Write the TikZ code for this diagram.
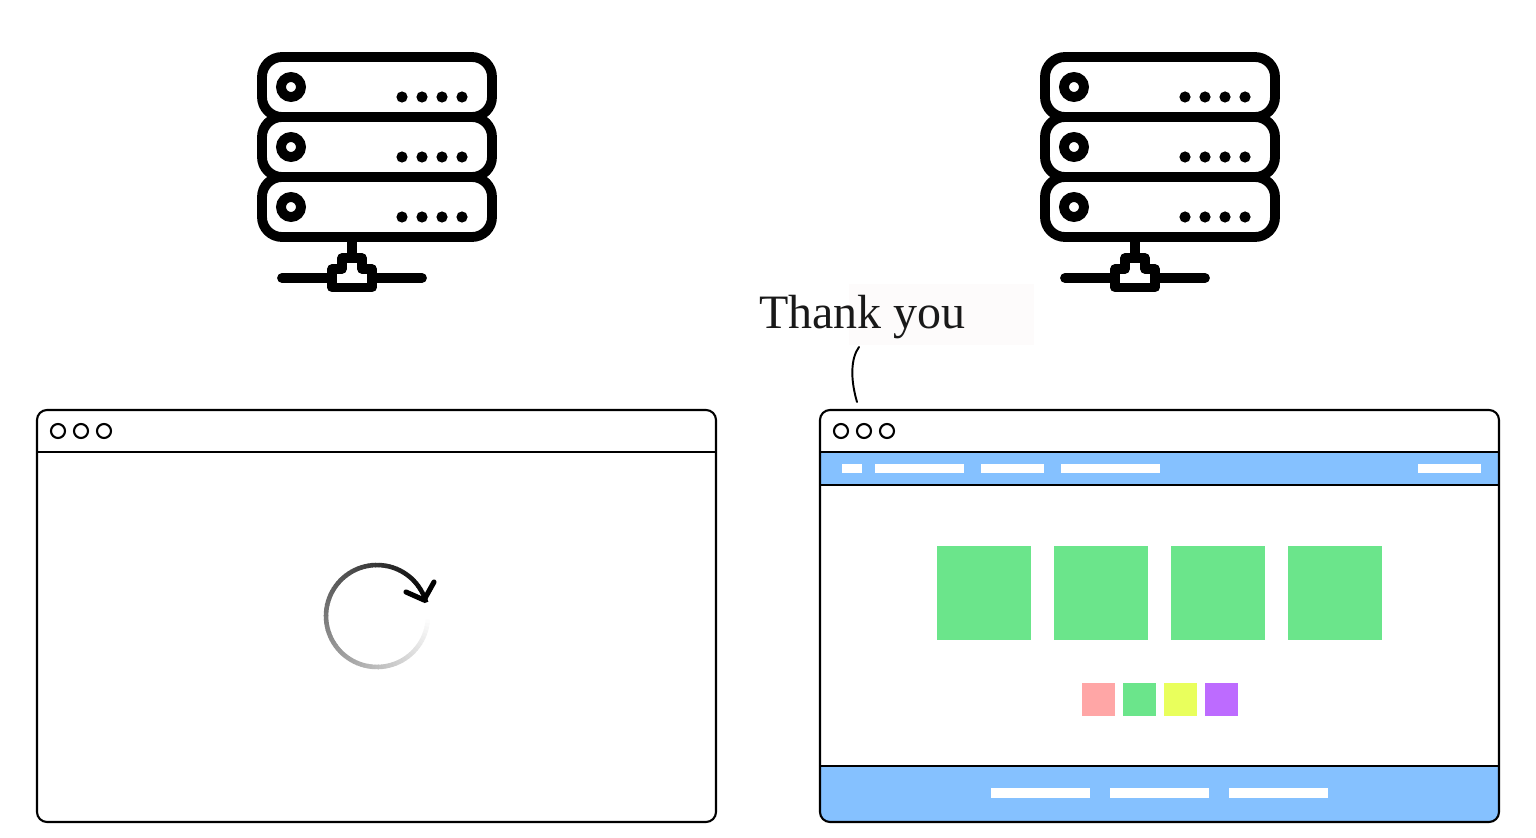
\documentclass[tikz,border=0pt]{standalone}
\usepackage{fontspec}
\setmainfont{Liberation Serif}
\usepackage{xcolor}
\definecolor{barblue}{HTML}{85C1FF}
\definecolor{boxgreen}{HTML}{6BE58B}
\definecolor{boxred}{HTML}{FFA6A6}
\definecolor{boxyellow}{HTML}{E9FF5C}
\definecolor{boxviolet}{HTML}{BD6BFF}
\definecolor{paleback}{HTML}{FDFBFB}
\tikzset{
    rack/.style={line width=5.6pt, rounded corners=0.4cm},
    frame/.style={line width=1.2pt, rounded corners=0.2cm},
    rule/.style={line width=1.2pt},
    button/.style={line width=1.2pt},
    wire/.style={line width=5.6pt, line cap=round},
    spinner/.style={line width=2.6pt}
}

\begin{document}
\begin{tikzpicture}[x=0.02cm, y=-0.02cm]
        \useasboundingbox (0,0) rectangle (1536,838);
        % thank you note
        \fill[paleback] (849,284) rectangle (1034,345);
        \node[anchor=base west, inner sep=0pt, text=black!90, font=\fontsize{27.3}{27.3}\selectfont] (thanks) at (759,328.5) {Thank you};
        \coordinate (n1) at (859,347);
        \coordinate (n2) at (857,402);
        \draw[line width=1.1pt, line cap=round] (n1) .. controls (851,358) and (850,378) .. (n2);
        % coloured parts of the right page
        \fill[barblue] (820,452) rectangle (1499,485);
        \fill[barblue] (820,766) -- (1499,766) [rounded corners=0.2cm] -- (1499,822) -- (820,822) [sharp corners] -- cycle;
        \foreach \xa/\xb in {842/862, 875/964, 981/1044, 1061/1160, 1418/1481}
            \fill[white] (\xa,464) rectangle (\xb,473);
        \foreach \xa/\xb in {991/1090, 1110/1209, 1229/1328}
            \fill[white] (\xa,788) rectangle (\xb,798);
        \foreach \xa in {937, 1054, 1171, 1288}
            \fill[boxgreen] (\xa,546) rectangle (\xa+94,640);
        \foreach \xa/\col in {1081.5/boxred, 1122.5/boxgreen, 1163.5/boxyellow, 1204.5/boxviolet}
            \fill[\col] (\xa,682.5) rectangle (\xa+33,715.5);
        \draw[rule] (820,485) -- (1499,485);
        \draw[rule] (820,766) -- (1499,766);
        % both columns: server and browser window
        \foreach \dx in {0,783}{
        \begin{scope}[shift={(\dx,0)}]
            \foreach \top in {57,117,177}{
                \draw[rack] (262,\top) rectangle (492,\top+60);
                \draw[line width=5.6pt] (291,\top+30) circle[radius=10];
                \foreach \xa in {402,422,442,462}
                    \fill (\xa,\top+40) circle[radius=5.6];
            }
            \draw[line width=5.2pt] (352,237) -- (352,258);
            \draw[line width=5.2pt, line join=round] (332,287.5) -- (372,287.5) -- (372,269) -- (362,269) -- (362,258) -- (342,258) -- (342,269) -- (332,269) -- cycle;
            \draw[wire] (282,278) -- (332,278);
            \draw[wire] (372,278) -- (422,278);
            \draw[frame] (37,410) rectangle (716,822);
            \draw[rule] (37,452) -- (716,452);
            \foreach \xa in {58,81,104}
                \draw[button] (\xa,431) circle[radius=7];
        \end{scope}
        }
        % loading circle on the left page
        \coordinate (spin) at (377,616);
        \foreach \a in {0,4,...,340}{
            \pgfmathsetmacro{\shade}{min(100,\a/3.4)}
            \draw[spinner, draw=black!\shade] ([shift={(spin)}]\a:51) arc[start angle=\a, end angle=\a+4.6, radius=51];
        }
        \coordinate (tip) at (424,600);
        \coordinate (h1) at (406,592);
        \coordinate (h2) at (434,582);
        \draw[line width=2.9pt, line cap=round, line join=round] (h1) -- (tip) -- (h2);
    \end{tikzpicture}
\end{document}
